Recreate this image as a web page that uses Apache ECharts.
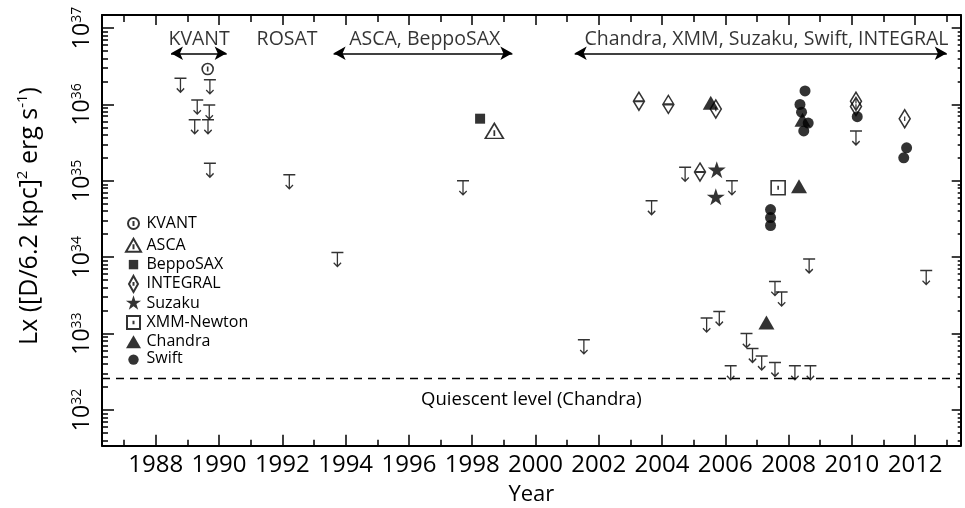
<!DOCTYPE html>
<html><head><meta charset="utf-8">
<script src="https://cdn.jsdelivr.net/npm/echarts@6/dist/echarts.min.js"></script>
<style>html,body{margin:0;padding:0;background:#fff}#c{width:965px;height:508px}</style>
</head><body><div id="c"></div>
<script>
// ---------------- data ----------------
const kvantX = [1989.64];
const kvantY = [2.9e36];
const ascaX = [1998.70];
const ascaY = [4.5e35];
const beppoX = [1998.25];
const beppoY = [6.5e35];
const integralX = [2003.27, 2004.20, 2005.20, 2005.70, 2010.13, 2010.13, 2011.67];
const integralY = [1.1e36, 1.0e36, 1.3e35, 8.7e35, 1.1e36, 9.4e35, 6.5e35];
const integralTimeBar = [true, true, true, false, false, false, false];
const suzakuX = [2005.73, 2005.70];
const suzakuY = [1.4e35, 6.2e34];
const xmmX = [2007.67];
const xmmY = [8.1e34];
const chandraX = [2005.54, 2008.44, 2008.33, 2007.30];
const chandraY = [1.05e36, 6.3e35, 8.5e34, 1.4e33];
const swiftX = [2007.43, 2007.43, 2007.43, 2008.52, 2008.36, 2008.41, 2008.62, 2008.48, 2010.17, 2011.73, 2011.64];
const swiftY = [4.2e34, 3.3e34, 2.6e34, 1.5e36, 1.0e36, 7.9e35, 5.7e35, 4.5e35, 6.9e35, 2.7e35, 2.0e35];
const ulX = [1988.78, 1989.71, 1989.31, 1989.69, 1989.23, 1989.65, 1989.71, 1992.22, 1993.74, 1997.71,
             2001.53, 2003.67, 2004.73, 2006.21, 2005.41, 2005.81, 2006.17, 2006.67, 2006.86, 2007.15,
             2007.57, 2008.20, 2008.69, 2007.57, 2007.78, 2008.65, 2010.13, 2012.35];
const ulY = [2.2e36, 2.1e36, 1.14e36, 9.8e35, 6.3e35, 6.3e35, 1.7e35, 1.2e35, 1.15e34, 1.0e35,
             8.3e32, 5.5e34, 1.5e35, 1.0e35, 1.6e33, 1.95e33, 3.8e32, 1.0e33, 6.4e32, 5.1e32,
             4.2e32, 3.8e32, 3.8e32, 4.8e33, 3.5e33, 9.5e33, 4.5e35, 6.7e33];
const quiescentLevel = 2.6e32;
const quiescentText = 'Quiescent level (Chandra)';
const annoText = ['KVANT', 'ROSAT', 'ASCA, BeppoSAX', 'Chandra, XMM, Suzaku, Swift, INTEGRAL'];
const annoX = [1989.37, 1992.15, 1996.5, 2007.3];
const annoY = [7.0e36, 7.0e36, 7.0e36, 7.0e36];
const arrowStart = [1988.48, 1993.62, 2001.24];
const arrowEnd = [1990.24, 1999.27, 2013.0];
const arrowY = 4.67e36;
const majorYears = [1988, 1990, 1992, 1994, 1996, 1998, 2000, 2002, 2004, 2006, 2008, 2010, 2012];
const minorYears = [1987, 1989, 1991, 1993, 1995, 1997, 1999, 2001, 2003, 2005, 2007, 2009, 2011, 2013];
const decades = [1e32, 1e33, 1e34, 1e35, 1e36, 1e37];
const xMin = 1986.30, xMax = 2013.44;
const yMin = Math.pow(10, 31.533), yMax = Math.pow(10, 37.17);

// minor log ticks (axis decoration): k x 10^n
const logMinor = [];
for (let n = 31; n <= 37; n++) for (let k = 2; k <= 9; k++) {
  const v = k * Math.pow(10, n);
  if (v > yMin && v < yMax) logMinor.push(v);
}

// ---------------- styles ----------------
const FONT = 'Open Sans';
const INK = '#000';
const SYM = {
  circTick: 'path://M12,6A6,6 0 1 1 0,6A6,6 0 1 1 12,6Z M6,3.3L6,8.7',
  triTick: 'path://M7,0L14,12L0,12Z M7,5.5L7,10',
  diamondTick: 'path://M5,0L10,8L5,16L0,8Z M5,6L5,10',
  diamondBar: 'path://M5,0L10,8L5,16L0,8Z M0,8L10,8',
  star: 'path://M50,0L61.2,34.5L97.6,34.5L68.2,55.9L79.4,90.5L50,69.1L20.6,90.5L31.8,55.9L2.4,34.5L38.8,34.5Z',
  sqTick: 'path://M0,0L12,0L12,12L0,12Z M6,4.3L6,7.7',
  ul: 'path://M0,0L12,0M6,0L6,14M2.3,10.2L6,14L9.7,10.2'
};
// legend icons padded into a 16x16 box
const ICON = {
  KVANT: 'path://M0,0M16,16M13.5,8A5.5,5.5 0 1 1 2.5,8A5.5,5.5 0 1 1 13.5,8Z M8,5.6L8,10.4',
  ASCA: 'path://M0,0M16,16M8,1.5L15.5,14.5L0.5,14.5Z M8,7L8,12',
  BeppoSAX: 'path://M0,0M16,16M3.3,3.3L12.7,3.3L12.7,12.7L3.3,12.7Z',
  INTEGRAL: 'path://M0,0M16,16M8,0L12.5,8L8,16L3.5,8Z M8,6.2L8,9.8',
  Suzaku: 'path://M0,0M16,16M8,0L9.8,5.5L15.6,5.5L10.9,8.9L12.7,14.5L8,11L3.3,14.5L5.1,8.9L0.4,5.5L6.2,5.5Z',
  'XMM-Newton': 'path://M0,0M16,16M1.5,1.5L14.5,1.5L14.5,14.5L1.5,14.5Z M8,6.3L8,9.7',
  Chandra: 'path://M0,0M16,16M8,1.5L15.5,14.5L0.5,14.5Z',
  Swift: 'path://M0,0M16,16M13.2,9A5.2,5.2 0 1 1 2.8,9A5.2,5.2 0 1 1 13.2,9Z'
};
const openStyle = { color: 'none', borderColor: '#000', borderWidth: 1.6 };
const fillStyle = { color: '#000', borderWidth: 0 };
const pts = (xs, ys) => xs.map((x, i) => [x, ys[i]]);

const chart = echarts.init(document.getElementById('c'), null, { renderer: 'canvas' });

function xAx(pos, ticks, len, withLine, labels) {
  return {
    type: 'value', position: pos, min: xMin, max: xMax,
    axisLine: { show: withLine, onZero: false, lineStyle: { color: '#000', width: 2 } },
    axisTick: { show: true, inside: true, length: len, customValues: ticks, lineStyle: { color: '#000', width: 1.5 } },
    axisLabel: labels ? {
      show: true, customValues: majorYears, margin: 7, fontFamily: FONT, fontSize: 24, color: INK,
      formatter: v => String(Math.round(v))
    } : { show: false },
    splitLine: { show: false },
    name: labels ? 'Year' : '', nameLocation: 'middle', nameGap: 38,
    nameTextStyle: { fontFamily: FONT, fontSize: 22, color: INK }
  };
}
function yAx(pos, ticks, len, withLine, labels) {
  const ax = {
    type: 'log', logBase: 10, position: pos, min: yMin, max: yMax,
    axisLine: { show: withLine, onZero: false, lineStyle: { color: '#000', width: 2 } },
    axisTick: { show: true, inside: true, length: len, customValues: ticks, lineStyle: { color: '#000', width: 1.5 } },
    axisLabel: { show: false },
    splitLine: { show: false }
  };
  if (labels) {
    ax.axisLabel = {
      show: true, customValues: decades, rotate: 90, margin: 7, color: INK,
      formatter: v => '{b|10}{e|' + Math.round(Math.log10(v)) + '}',
      rich: {
        b: { fontFamily: FONT, fontSize: 23, lineHeight: 25, color: INK },
        e: { fontFamily: FONT, fontSize: 14, lineHeight: 14, verticalAlign: 'top', color: INK }
      }
    };
  }
  return ax;
}

const option = {
  animation: false,
  backgroundColor: '#fff',
  grid: { left: 102, right: 4.3, top: 15, bottom: 62.3, containLabel: false, outerBoundsMode: 'none' },
  xAxis: [
    xAx('bottom', majorYears, 11, true, true),
    xAx('bottom', minorYears, 6, false, false),
    xAx('top', majorYears, 10, true, false),
    xAx('top', minorYears, 7, false, false)
  ],
  yAxis: [
    yAx('left', decades, 12, true, true),
    yAx('left', logMinor, 6, false, false),
    yAx('right', decades, 9, true, false),
    yAx('right', logMinor, 3, false, false)
  ],
  graphic: [{
    type: 'text', x: 30, y: 216, rotation: Math.PI / 2, silent: true,
    style: {
      text: '{n|Lx ([D/6.2 kpc]}{s|2}{n| erg s}{s|-1}{n|)}',
      align: 'center', verticalAlign: 'middle', fill: INK,
      rich: {
        n: { fontFamily: FONT, fontSize: 25, lineHeight: 30, fill: INK },
        s: { fontFamily: FONT, fontSize: 15, lineHeight: 15, verticalAlign: 'top', fill: INK }
      }
    }
  }],
  legend: {
    orient: 'vertical', left: 123, top: 213, padding: 0, itemWidth: 16, itemHeight: 16, itemGap: 0.8,
    selectedMode: false,
    textStyle: { fontFamily: FONT, fontSize: 16, color: INK, lineHeight: 16 },
    data: ['KVANT', 'ASCA', 'BeppoSAX', 'INTEGRAL', 'Suzaku', 'XMM-Newton', 'Chandra', 'Swift']
      .map(n => ({ name: n, icon: ICON[n] }))
  },
  series: [
    {
      name: 'upper limits', type: 'scatter', silent: true, z: 3,
      symbol: SYM.ul, symbolSize: [12, 14], symbolOffset: [0, '50%'],
      itemStyle: { color: 'none', borderColor: '#000', borderWidth: 1.4 },
      data: pts(ulX, ulY),
      markLine: {
        silent: true, animation: false,
        symbol: ['arrow', 'arrow'], symbolSize: [10, 12],
        lineStyle: { color: '#000', width: 1.6, type: 'solid' },
        label: { show: false },
        data: arrowStart.map((s, i) => [{ coord: [s, arrowY] }, { coord: [arrowEnd[i], arrowY] }])
      }
    },
    { name: 'KVANT', type: 'scatter', silent: true, symbol: SYM.circTick, symbolSize: 11, itemStyle: openStyle, data: pts(kvantX, kvantY) },
    { name: 'ASCA', type: 'scatter', silent: true, symbol: SYM.triTick, symbolSize: [18, 15], itemStyle: openStyle, data: pts(ascaX, ascaY) },
    { name: 'BeppoSAX', type: 'scatter', silent: true, symbol: 'rect', symbolSize: 10, itemStyle: fillStyle, data: pts(beppoX, beppoY) },
    {
      name: 'INTEGRAL', type: 'scatter', silent: true, symbolSize: [11, 18], itemStyle: openStyle,
      data: integralX.map((x, i) => ({ value: [x, integralY[i]], symbol: integralTimeBar[i] ? SYM.diamondBar : SYM.diamondTick }))
    },
    { name: 'Suzaku', type: 'scatter', silent: true, symbol: SYM.star, symbolSize: [18, 17], itemStyle: fillStyle, data: pts(suzakuX, suzakuY) },
    { name: 'XMM-Newton', type: 'scatter', silent: true, symbol: SYM.sqTick, symbolSize: 14, itemStyle: openStyle, data: pts(xmmX, xmmY) },
    { name: 'Chandra', type: 'scatter', silent: true, symbol: 'triangle', symbolSize: [16, 14], itemStyle: fillStyle, data: pts(chandraX, chandraY) },
    { name: 'Swift', type: 'scatter', silent: true, symbol: 'circle', symbolSize: 11, itemStyle: fillStyle, data: pts(swiftX, swiftY) },
    {
      name: 'annotations', type: 'scatter', silent: true, symbol: 'circle', symbolSize: 0,
      itemStyle: { color: 'none' },
      label: { show: true, position: 'inside', formatter: p => annoText[p.dataIndex], fontFamily: FONT, fontSize: 19.5, color: INK },
      labelLayout: { hideOverlap: false },
      data: pts(annoX, annoY),
      markLine: {
        silent: true, animation: false, symbol: 'none',
        lineStyle: { type: [8, 6], width: 1.3, color: '#000' },
        label: {
          show: true, position: 'insideMiddleBottom', distance: 12, formatter: quiescentText,
          fontFamily: FONT, fontSize: 18.5, color: INK
        },
        data: [{ yAxis: quiescentLevel }]
      }
    }
  ]
};
chart.setOption(option);
</script>
</body></html>
